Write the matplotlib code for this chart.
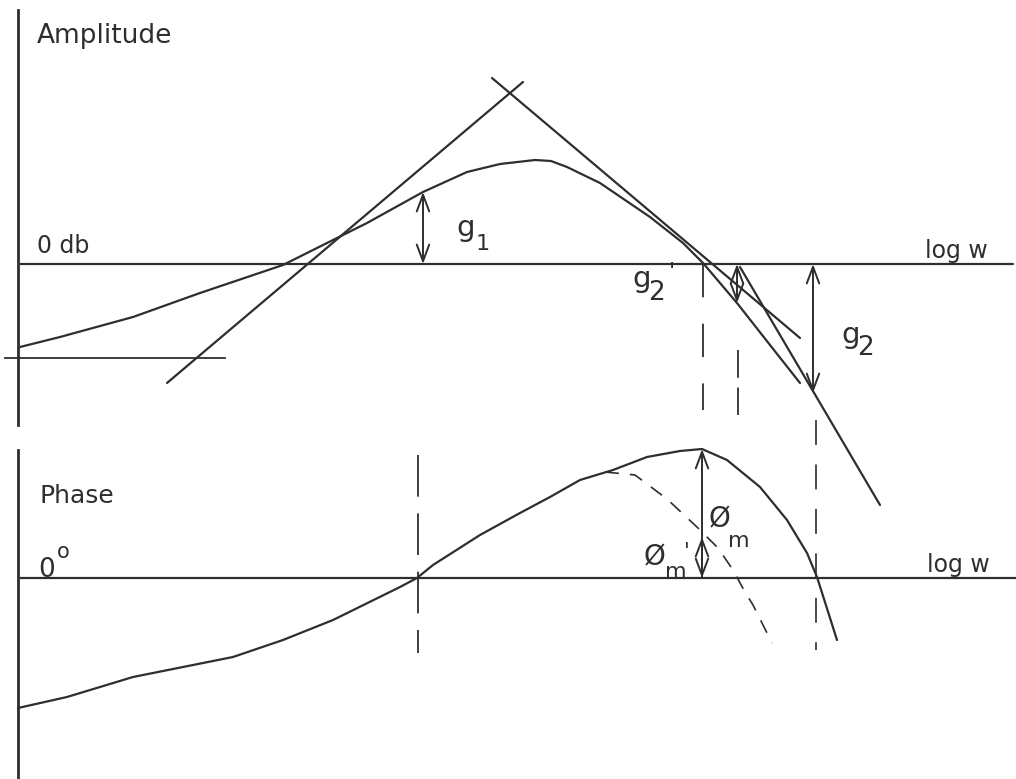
import matplotlib
matplotlib.use('Agg')
import matplotlib.pyplot as plt

plt.rcParams['font.family'] = ['DejaVu Sans']
plt.rcParams['mathtext.default'] = 'regular'
plt.rcParams['lines.scale_dashes'] = False

INK = '#2e2e2e'

# --- amplitude sketch (x: log w, y: db) ---
amp_w = [0.02, 0.42, 1.15, 1.82, 2.65, 3.15, 3.49, 4.05, 4.49, 4.82, 5.17,
         5.33, 5.49, 5.82, 6.32, 6.65, 6.85, 7.19, 7.52, 7.82]
amp_db = [-8.3, -7.3, -5.3, -2.9, -0.1, 2.4, 4.1, 7.2, 9.2, 10.0, 10.4,
          10.3, 9.7, 8.1, 4.7, 2.1, 0.1, -3.9, -8.1, -11.9]

rise_w, rise_db = [1.49, 5.05], [-11.9, 18.2]      # rising asymptote
fall_w, fall_db = [4.74, 7.82], [18.6, -7.4]       # falling asymptote
steep_w, steep_db = [7.22, 8.62], [-0.3, -24.1]    # steeper asymptote
low_w, low_db = [-0.13, 2.07], [-9.4, -9.4]        # low-frequency level

g1_w, g1_db = 4.05, 7.2
g2p_w, g2p_db = 7.19, -3.9
g2_w, g2_db = 7.95, -12.9

# --- phase sketch (x: log w, y: degrees) ---
ph_w = [0.0, 0.49, 1.15, 2.15, 2.65, 3.15, 3.82, 3.99, 4.15, 4.62, 5.02,
        5.32, 5.62, 5.95, 6.29, 6.62, 6.84, 7.09, 7.42, 7.69, 7.89, 7.99, 8.19]
ph_deg = [-65, -59.5, -49.5, -39.5, -31, -21, -4.5, 0, 6.5, 21.5, 32.5,
          40.5, 49, 54, 60.5, 63.5, 64.5, 59, 45.5, 29, 12.5, 0.5, -31]

ph2_w = [5.87, 6.17, 6.49, 6.80, 7.00, 7.15, 7.27, 7.35, 7.54]
ph2_deg = [53, 51.5, 39.5, 25, 15, 4, -7, -13.5, -32.5]

pm_w, pm_deg = 6.84, 64.5
pmp_deg = 20.5


def arrow(ax, x, y0, y1, style='<->'):
    ax.annotate('', xy=(x, y1), xytext=(x, y0), annotation_clip=False,
                arrowprops=dict(arrowstyle=style + ',head_length=1.2,head_width=0.45',
                                color=INK, lw=1.4, shrinkA=0, shrinkB=0))


def label(ax, x, y, s, size=18):
    ax.text(x, y, s, fontsize=size, color=INK, va='baseline', ha='left', clip_on=False)


fig = plt.figure(figsize=(10.16, 7.79), dpi=100)
ax_a = fig.add_axes([0, 1 - 400 / 779, 1, 400 / 779])
ax_p = fig.add_axes([0, 0, 1, 379 / 779])
for ax in (ax_a, ax_p):
    ax.set_axis_off()
    ax.set_xlim(-0.18, 9.98)
ax_a.set_ylim(-13.6, 26.4)
ax_p.set_ylim(-100.5, 89)

kw = dict(color=INK, lw=1.6, clip_on=False, solid_capstyle='round')

# amplitude panel
ax_a.plot([0, 0], [25.4, -16.1], color=INK, lw=2.0, clip_on=False)
ax_a.plot([0.02, 9.95], [0, 0], **kw)
ax_a.plot(low_w, low_db, color=INK, lw=1.3, clip_on=False)
ax_a.plot(amp_w, amp_db, **kw)
ax_a.plot(rise_w, rise_db, **kw)
ax_a.plot(fall_w, fall_db, **kw)
ax_a.plot(steep_w, steep_db, **kw)
ax_a.plot([6.85, 6.85], [0, -14.6], color=INK, lw=1.3, ls=(0, (24, 19)), clip_on=False)
ax_a.plot([7.20, 7.20], [-8.6, -15.1], color=INK, lw=1.3, ls=(0, (20, 7)), clip_on=False)

arrow(ax_a, g1_w, 0, g1_db)
arrow(ax_a, g2p_w, 0, g2p_db)
arrow(ax_a, g2_w, 0, g2_db)

label(ax_a, 0.19, 22.1, 'Amplitude', 19)
label(ax_a, 0.19, 1.1, '0 db', 17)
label(ax_a, 9.07, 0.6, 'log w', 17)
label(ax_a, 4.38, 2.8, 'g', 21)
label(ax_a, 4.58, 1.4, '1', 16)
label(ax_a, 6.14, -2.3, 'g', 21)
label(ax_a, 6.30, -3.6, '2', 19)
label(ax_a, 6.51, -1.4, "'", 16)
label(ax_a, 8.23, -7.9, 'g', 21)
label(ax_a, 8.39, -9.1, '2', 19)

# phase panel
ax_p.plot([0, 0], [64, -100.5], color=INK, lw=2.0, clip_on=False)
ax_p.plot([0.02, 9.98], [0, 0], **kw)
ax_p.plot(ph_w, ph_deg, **kw)
ax_p.plot(ph2_w, ph2_deg, color=INK, lw=1.2, ls=(0, (10, 8)), clip_on=False)
ax_p.plot([4.0, 4.0], [61.5, -37.5], color=INK, lw=1.3, ls=(0, (30, 12)), clip_on=False)
ax_p.plot([7.98, 7.98], [79, -36], color=INK, lw=1.2, ls=(0, (18, 14)), clip_on=False)

arrow(ax_p, pm_w, 0, pm_deg, '->')
arrow(ax_p, pm_w, 0, pmp_deg)

label(ax_p, 0.22, 37.5, 'Phase', 18)
label(ax_p, 0.20, 0.5, '0', 19)
label(ax_p, 0.39, 10, 'o', 15)
label(ax_p, 9.09, 3, 'log w', 17)
label(ax_p, 6.91, 25.5, 'Ø', 20)
label(ax_p, 7.10, 15.5, 'm', 16)
label(ax_p, 6.26, 6.5, 'Ø', 20)
label(ax_p, 6.47, 0, 'm', 16)
label(ax_p, 6.66, 10, "'", 15)

fig.savefig('out.png', dpi=100, facecolor='white')
